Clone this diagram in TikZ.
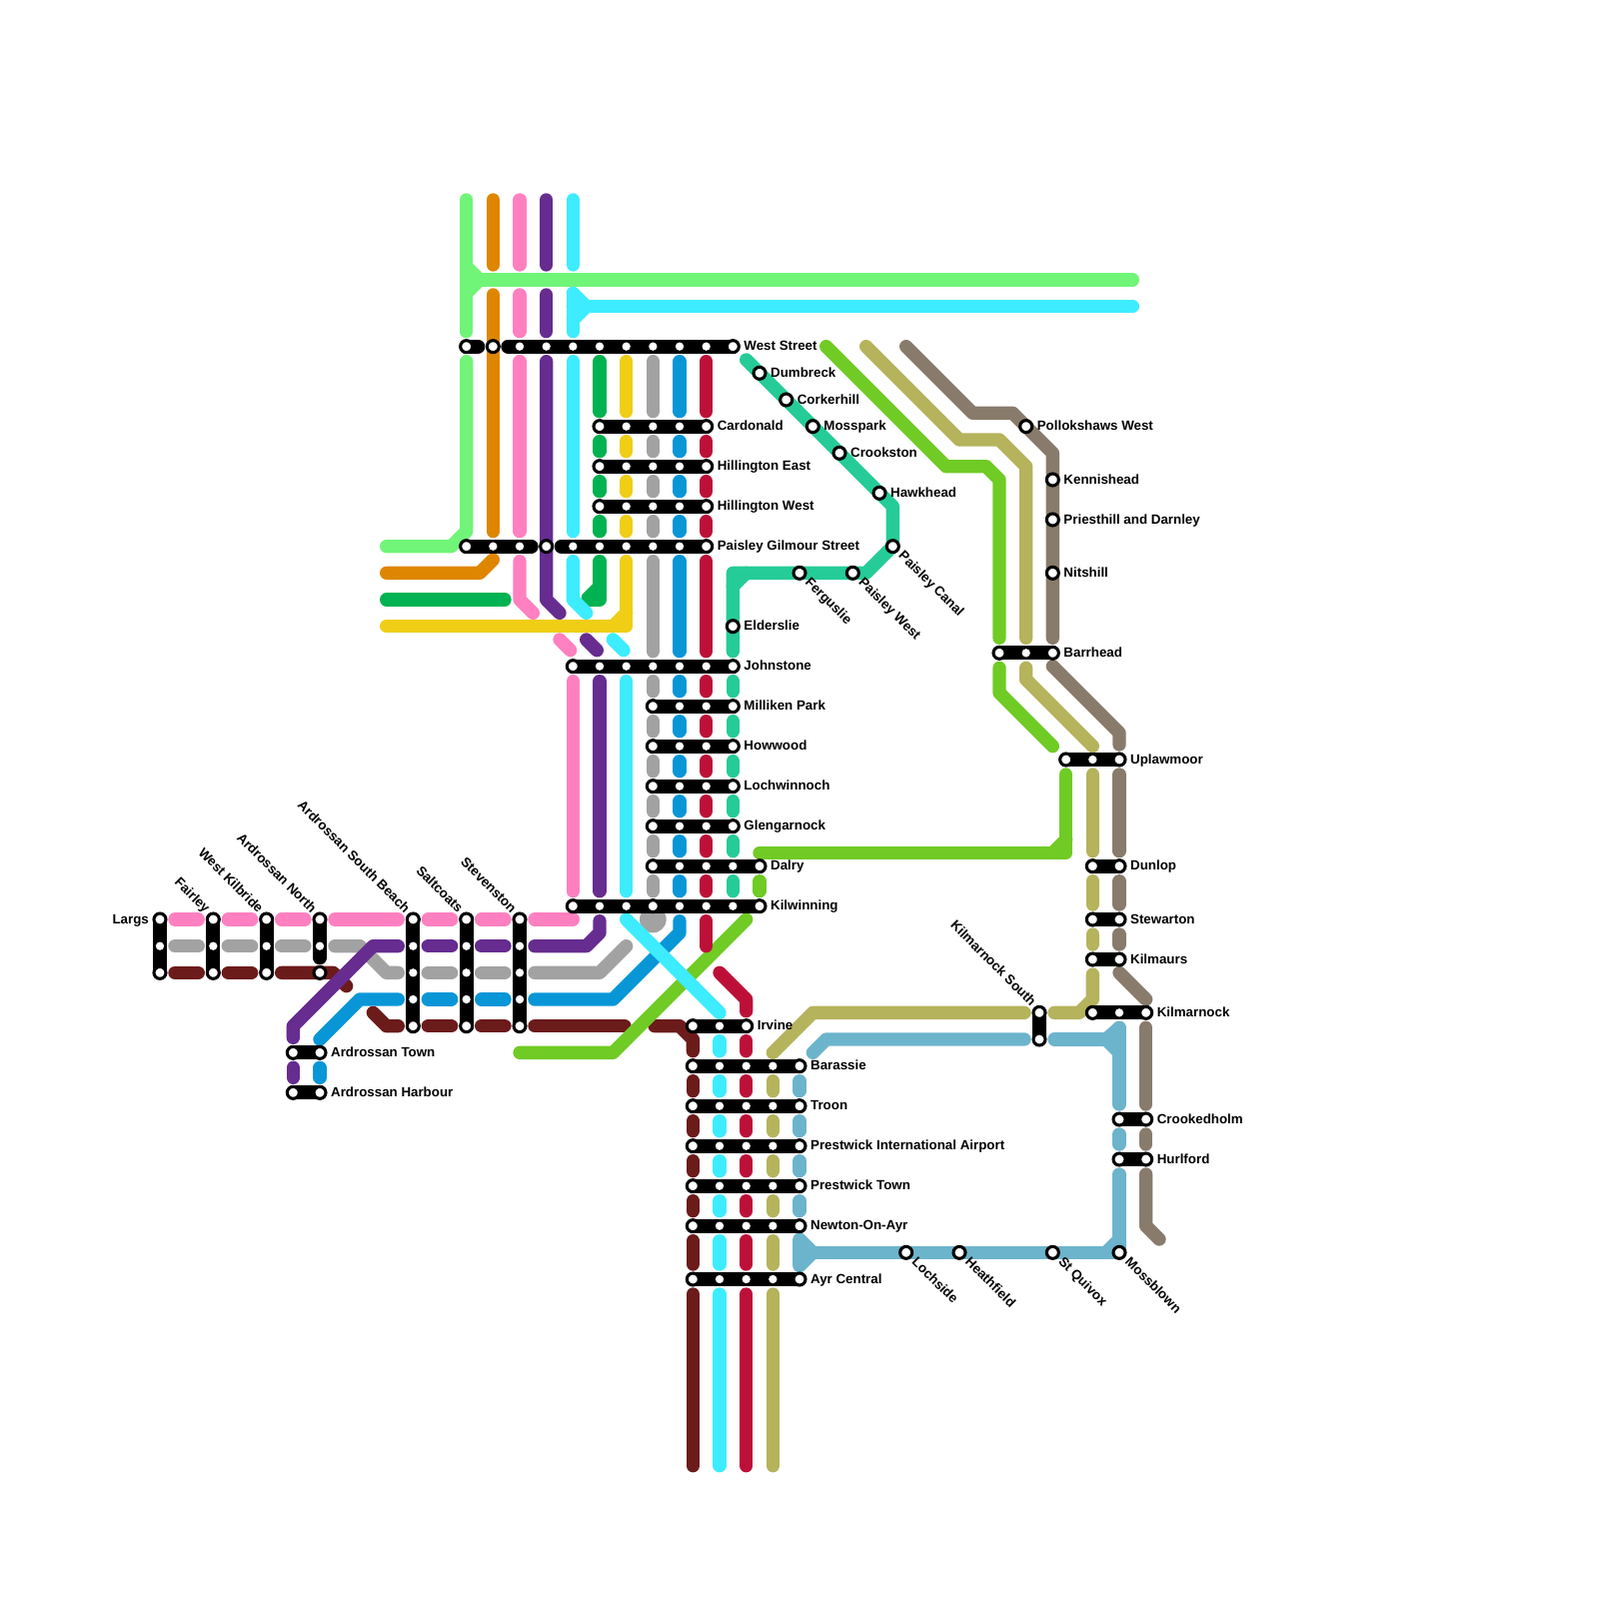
\documentclass[tikz,border=0pt]{standalone}
\usepackage{fontspec}
\setmainfont{Liberation Sans}
\pgfdeclarelayer{bars}
\pgfdeclarelayer{stops}
\pgfsetlayers{main,bars,stops}
\definecolor{cLight}{HTML}{70F578}
\definecolor{cOrange}{HTML}{DF8600}
\definecolor{cPink}{HTML}{FF80C0}
\definecolor{cPurple}{HTML}{662C90}
\definecolor{cCyan}{HTML}{3DECFF}
\definecolor{cGreen}{HTML}{00B251}
\definecolor{cYellow}{HTML}{F0CE15}
\definecolor{cGrey}{HTML}{A2A2A2}
\definecolor{cBlue}{HTML}{0896D7}
\definecolor{cRed}{HTML}{BD1038}
\definecolor{cTeal}{HTML}{25CC97}
\definecolor{cLime}{HTML}{70CB25}
\definecolor{cOlive}{HTML}{B5B35C}
\definecolor{cBrown}{HTML}{897B6C}
\definecolor{cSky}{HTML}{6CB4CC}
\definecolor{cMaroon}{HTML}{6C1B1B}
\tikzset{
  ln/.style={line width=2mm,line cap=round,line join=round},
  seg/.style={shorten <=2.25mm,shorten >=2.25mm},
  barline/.style={line width=2.1mm,line cap=round,draw=black},
  ringstop/.style={circle,fill=white,draw=black,line width=.46mm,inner sep=0pt,minimum size=1.8mm,outer sep=0pt},
  dotstop/.style={circle,fill=white,inner sep=0pt,minimum size=1.25mm,outer sep=0pt},
  lbl/.style={font=\fontsize{5.69}{7}\selectfont\bfseries,inner sep=0pt,text height=1.45mm,text depth=.4mm,text=black}
}
\newcommand\Rings[2]{\foreach \n in {#2}{\node[ringstop] (s\n-#1) at (\n,#1) {};}}
\newcommand\Dots[2]{\foreach \n in {#2}{\node[dotstop] (s\n-#1) at (\n,#1) {};}}
\newcommand\VSegs[3]{\foreach \a/\b in {#3}{\draw[ln,#1,seg] (s#2-\a.center) -- (s#2-\b.center);}}
\newcommand\HSegs[3]{\foreach \a/\b in {#3}{\draw[ln,#1,seg] (s\a-#2.center) -- (s\b-#2.center);}}
\newcommand\HBar[3]{\draw[barline] (s#2-#1.center) -- (s#3-#1.center);}
\newcommand\VBar[3]{\draw[barline] (s#1-#2.center) -- (s#1-#3.center);}
\newcommand\LR[2]{\node[lbl,anchor=west] (l#1) at ([xshift=1.6mm,yshift=-.08mm]s#1.center) {#2};}
\newcommand\LD[2]{\node[lbl,anchor=west,rotate=-45] (l#1) at ([xshift=1.1mm,yshift=-1.1mm]s#1.center) {#2};}
\newcommand\LU[2]{\node[lbl,anchor=east,rotate=-45] (l#1) at ([xshift=-.9mm,yshift=1.2mm]s#1.center) {#2};}
\begin{document}
\begin{tikzpicture}[x=2mm,y=-2mm]
\useasboundingbox (0,0) rectangle (120,120);
\begin{pgfonlayer}{stops}
\Rings{26}{35,37,55}\Dots{26}{39,41,43,45,47,49,51,53}
\foreach \r in {32,35,38}{\Rings{\r}{45,53}\Dots{\r}{47,49,51}}
\Rings{41}{35,41,53}\Dots{41}{37,39,43,45,47,49,51}
\Rings{50}{43,55}\Dots{50}{45,47,49,51,53}
\foreach \r in {53,56,59,62}{\Rings{\r}{49,55}\Dots{\r}{51,53}}
\Rings{65}{49,57}\Dots{65}{51,53,55}
\Rings{68}{43,49,57}\Dots{68}{45,47,51,53,55}
\Rings{77}{52,56}\Dots{77}{54}
\foreach \r in {80,83,86,89,92,96}{\Rings{\r}{52,60}\Dots{\r}{54,56,58}}
\Rings{69}{12,16,20,24,31,35,39}
\Dots{71}{12,16,20,24,31,35,39}
\Rings{73}{12,16,20,24}\Dots{73}{31,35,39}
\Dots{75}{31,35,39}
\Rings{77}{31,35,39}
\Rings{79}{22,24}\Rings{82}{22,24}
\Rings{28}{57}\Rings{30}{59}\Rings{32}{61}\Rings{34}{63}\Rings{37}{66}
\Rings{41}{67}\Rings{43}{60,64}\Rings{47}{55}
\Rings{32}{77}\Rings{36}{79}\Rings{39}{79}\Rings{43}{79}
\Rings{49}{75,79}\Dots{49}{77}
\Rings{57}{80,84}\Dots{57}{82}
\Rings{65}{82,84}\Rings{69}{82,84}\Rings{72}{82,84}
\Rings{76}{82,86}\Dots{76}{84}
\Rings{84}{84,86}\Rings{87}{84,86}
\Rings{76}{78}\Rings{78}{78}
\Rings{94}{68,72,79,84}
\end{pgfonlayer}
% labels
\begin{pgfonlayer}{stops}
\LR{55-26}{West Street}\LR{57-28}{Dumbreck}\LR{59-30}{Corkerhill}\LR{61-32}{Mosspark}\LR{63-34}{Crookston}\LR{66-37}{Hawkhead}
\LR{53-32}{Cardonald}\LR{53-35}{Hillington East}\LR{53-38}{Hillington West}\LR{53-41}{Paisley Gilmour Street}
\LR{55-47}{Elderslie}\LR{55-50}{Johnstone}\LR{55-53}{Milliken Park}\LR{55-56}{Howwood}\LR{55-59}{Lochwinnoch}\LR{55-62}{Glengarnock}
\LR{57-65}{Dalry}\LR{57-68}{Kilwinning}\LR{56-77}{Irvine}
\LR{60-80}{Barassie}\LR{60-83}{Troon}\LR{60-86}{Prestwick International Airport}\LR{60-89}{Prestwick Town}\LR{60-92}{Newton-On-Ayr}\LR{60-96}{Ayr Central}
\LR{77-32}{Pollokshaws West}\LR{79-36}{Kennishead}\LR{79-39}{Priesthill and Darnley}\LR{79-43}{Nitshill}\LR{79-49}{Barrhead}
\LR{84-57}{Uplawmoor}\LR{84-65}{Dunlop}\LR{84-69}{Stewarton}\LR{84-72}{Kilmaurs}\LR{86-76}{Kilmarnock}\LR{86-84}{Crookedholm}\LR{86-87}{Hurlford}
\LR{24-79}{Ardrossan Town}\LR{24-82}{Ardrossan Harbour}
\node[lbl,anchor=east] (l12-69) at ([xshift=-1.6mm,yshift=-.08mm]s12-69.center) {Largs};
\LD{60-43}{Ferguslie}\LD{64-43}{Paisley West}\LD{67-41}{Paisley Canal}\LD{68-94}{Lochside}\LD{72-94}{Heathfield}\LD{79-94}{St Quivox}\LD{84-94}{Mossblown}
\LU{16-69}{Fairley}\LU{20-69}{West Kilbride}\LU{24-69}{Ardrossan North}\LU{31-69}{Ardrossan South Beach}\LU{35-69}{Saltcoats}\LU{39-69}{Stevenston}\LU{78-76}{Kilmarnock South}
\end{pgfonlayer}
% black bars
\begin{pgfonlayer}{bars}
\draw[barline,shorten >=2.25mm] (s35-26.center) -- (s37-26.center);
\draw[barline,shorten <=2.25mm] (s37-26.center) -- (s55-26.center);
\foreach \r in {32,35,38}{\HBar{\r}{45}{53}}
\draw[barline,shorten >=2.25mm] (s35-41.center) -- (s41-41.center);
\draw[barline,shorten <=2.25mm] (s41-41.center) -- (s53-41.center);
\HBar{50}{43}{55}
\foreach \r in {53,56,59,62}{\HBar{\r}{49}{55}}
\HBar{65}{49}{57}\HBar{68}{43}{57}\HBar{77}{52}{56}
\foreach \r in {80,83,86,89,92,96}{\HBar{\r}{52}{60}}
\foreach \c in {12,16,20}{\VBar{\c}{69}{73}}
\draw[barline,shorten >=2.25mm] (s24-69.center) -- (s24-73.center);
\foreach \c in {31,35,39}{\VBar{\c}{69}{77}}
\HBar{79}{22}{24}\HBar{82}{22}{24}
\HBar{49}{75}{79}\HBar{57}{80}{84}
\HBar{65}{82}{84}\HBar{69}{82}{84}\HBar{72}{82}{84}\HBar{76}{82}{86}
\HBar{84}{84}{86}\HBar{87}{84}{86}
\VBar{78}{76}{78}
\end{pgfonlayer}
% light green
\draw[ln,cLight] (35,15) -- (35,24.875);
\draw[ln,cLight] (35,20) -- (36,21) -- (35,22);
\draw[ln,cLight] (35,21) -- (85,21);
\draw[ln,cLight] (35,27.125) -- (35,39.875) -- (33.875,41) -- (29,41);
% orange
\draw[ln,cOrange] (37,15) -- (37,19.875);
\draw[ln,cOrange] (37,22.125) -- (37,39.875);
\draw[ln,cOrange] (29,43) -- (36,43) -- (37,42);
% pink
\draw[ln,cPink] (39,15) -- (39,19.875);
\draw[ln,cPink] (39,22.125) -- (39,24.875);
\VSegs{cPink}{39}{26/41}
\draw[ln,cPink] (39,42.125) -- (39,45) -- (40,46);
\draw[ln,cPink] (42,48) -- (42.8,48.8);
\VSegs{cPink}{43}{50/68}
\HSegs{cPink}{69}{12/16,16/20,20/24,24/31,31/35,35/39}
\draw[ln,cPink] (40.125,69) -- (43,69);
% dark green
\VSegs{cGreen}{45}{26/32,32/35,35/38,38/41}
\draw[ln,cGreen] (29,45) -- (37.875,45);
\draw[ln,cGreen] (45,42.125) -- (45,45) -- (44.125,45);
\draw[ln,cGreen] (45,44) -- (44.125,44.875);
% yellow
\VSegs{cYellow}{47}{26/32,32/35,35/38,38/41}
\draw[ln,cYellow] (47,42.125) -- (47,47) -- (29,47);
\draw[ln,cYellow] (47,46) -- (46,47);
% grey
\VSegs{cGrey}{49}{26/32,32/35,35/38,38/41,41/50,50/53,53/56,56/59,59/62,62/65,65/68}
\fill[cGrey] (49,69) circle (1);
\HSegs{cGrey}{71}{12/16,16/20,20/24}
\draw[ln,cGrey] (25.125,71) -- (27,71) -- (29,73) -- (29.875,73);
\HSegs{cGrey}{73}{31/35,35/39}
\draw[ln,cGrey] (40.125,73) -- (45,73) -- (47,71);
% maroon
\HSegs{cMaroon}{73}{12/16,16/20}
\draw[ln,cMaroon] (21.125,73) -- (25,73) -- (26,74);
\draw[ln,cMaroon] (28,76) -- (29,77) -- (29.875,77);
\HSegs{cMaroon}{77}{31/35,35/39}
\draw[ln,cMaroon] (40.125,77) -- (46.875,77);
\draw[ln,cMaroon] (49.125,77) -- (51,77) -- (52,78) -- (52,78.875);
\VSegs{cMaroon}{52}{80/83,83/86,86/89,89/92,92/96}
\draw[ln,cMaroon] (52,97.125) -- (52,110);
% blue
\VSegs{cBlue}{51}{26/32,32/35,35/38,38/41,41/50,50/53,53/56,56/59,59/62,62/65,65/68}
\draw[ln,cBlue] (24,78) -- (27,75) -- (29.875,75);
\HSegs{cBlue}{75}{31/35,35/39}
\draw[ln,cBlue] (40.125,75) -- (46,75) -- (51,70) -- (51,69.125);
\VSegs{cBlue}{24}{79/82}
% purple
\draw[ln,cPurple] (41,15) -- (41,19.875);
\draw[ln,cPurple] (41,22.125) -- (41,24.875);
\draw[ln,cPurple] (41,27.125) -- (41,45) -- (42,46);
\draw[ln,cPurple] (44,48) -- (44.8,48.8);
\VSegs{cPurple}{45}{50/68}
\draw[ln,cPurple] (22,77.875) -- (22,77) -- (28,71) -- (29.875,71);
\HSegs{cPurple}{71}{31/35,35/39}
\draw[ln,cPurple] (40.125,71) -- (44,71) -- (45,70) -- (45,69.125);
\VSegs{cPurple}{22}{79/82}
% lime
\draw[ln,cLime] (62,26) -- (71,35) -- (74,35) -- (75,36) -- (75,47.875);
\draw[ln,cLime] (75,50.125) -- (75,52) -- (79,56);
\draw[ln,cLime] (80,58.125) -- (80,64) -- (57,64);
\draw[ln,cLime] (80,63) -- (79,64);
\VSegs{cLime}{57}{65/68}
\draw[ln,cLime] (56,69) -- (46,79) -- (39,79);
% crimson
\VSegs{cRed}{53}{26/32,32/35,35/38,38/41,41/50,50/53,53/56,56/59,59/62,62/65,65/68}
\draw[ln,cRed] (53,69.125) -- (53,71);
\draw[ln,cRed] (54,73) -- (56,75) -- (56,75.875);
\VSegs{cRed}{56}{77/80,80/83,83/86,86/89,89/92,92/96}
\draw[ln,cRed] (56,97.125) -- (56,110);
% cyan
\draw[ln,cCyan] (43,15) -- (43,19.875);
\draw[ln,cCyan] (43,22) -- (44,23) -- (43,24);
\draw[ln,cCyan] (43,22.125) -- (43,24.875);
\draw[ln,cCyan] (43,23) -- (85,23);
\VSegs{cCyan}{43}{26/41}
\draw[ln,cCyan] (43,42.125) -- (43,45) -- (44,46);
\draw[ln,cCyan] (46,48) -- (46.8,48.8);
\VSegs{cCyan}{47}{50/68}
\draw[ln,cCyan] (47,69) -- (54,76);
\VSegs{cCyan}{54}{77/80,80/83,83/86,86/89,89/92,92/96}
\draw[ln,cCyan] (54,97.125) -- (54,110);
% teal
\draw[ln,cTeal] (56,27) -- (67,38) -- (67,41) -- (65,43) -- (55,43) -- (55,48.875);
\draw[ln,cTeal] (55,44) -- (56,43);
\VSegs{cTeal}{55}{50/53,53/56,56/59,59/62,62/65,65/68}
% olive
\draw[ln,cOlive] (65,26) -- (72,33) -- (75,33) -- (77,35) -- (77,47.875);
\draw[ln,cOlive] (77,50.125) -- (77,51) -- (82,56);
\VSegs{cOlive}{82}{57/65,65/69,69/72}
\draw[ln,cOlive] (82,73.125) -- (82,75) -- (81,76) -- (79.125,76);
\draw[ln,cOlive] (58,79) -- (61,76) -- (76.875,76);
\VSegs{cOlive}{58}{80/83,83/86,86/89,89/92,92/96}
\draw[ln,cOlive] (58,97.125) -- (58,110);
% brown
\draw[ln,cBrown] (68,26) -- (73,31) -- (76,31) -- (79,34) -- (79,47.875);
\draw[ln,cBrown] (79,50) -- (84,55) -- (84,55.875);
\VSegs{cBrown}{84}{57/65,65/69,69/72}
\draw[ln,cBrown] (84,73) -- (86,75);
\VSegs{cBrown}{86}{76/84,84/87}
\draw[ln,cBrown] (86,88.125) -- (86,92) -- (87,93);
% sky
\draw[ln,cSky] (61,79) -- (62,78) -- (76.875,78);
\draw[ln,cSky] (79.125,78) -- (84,78);
\draw[ln,cSky] (84,77.125) -- (83,78) -- (84,79);
\VSegs{cSky}{84}{76/84,84/87}
\draw[ln,cSky] (84,88.125) -- (84,94) -- (61,94);
\draw[ln,cSky] (84,93) -- (83,94);
\VSegs{cSky}{60}{80/83,83/86,86/89,89/92,92/96}
\draw[ln,cSky] (60,93) -- (61,94) -- (60,95);
\end{tikzpicture}
\end{document}
